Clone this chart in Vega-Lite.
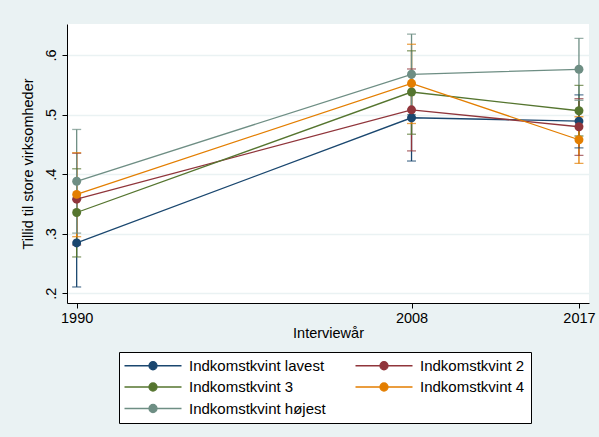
{
  "$schema": "https://vega.github.io/schema/vega-lite/v6.json",
  "width": 522,
  "height": 279,
  "autosize": {"type": "none"},
  "padding": {"left": 67, "top": 24, "right": 10, "bottom": 134},
  "background": "#eaf2f3",
  "config": {
    "view": {"fill": "white", "stroke": null},
    "font": "Liberation Sans"
  },
  "data": {
    "values": [
      {"group": "Indkomstkvint lavest", "year": 1990, "mean": 0.2845, "lo": 0.2106, "hi": 0.358},
      {"group": "Indkomstkvint lavest", "year": 2008, "mean": 0.4946, "lo": 0.422, "hi": 0.567},
      {"group": "Indkomstkvint lavest", "year": 2017, "mean": 0.489, "lo": 0.444, "hi": 0.533},
      {"group": "Indkomstkvint 2", "year": 1990, "mean": 0.358, "lo": 0.281, "hi": 0.435},
      {"group": "Indkomstkvint 2", "year": 2008, "mean": 0.508, "lo": 0.439, "hi": 0.5765},
      {"group": "Indkomstkvint 2", "year": 2017, "mean": 0.4795, "lo": 0.4314, "hi": 0.5266},
      {"group": "Indkomstkvint 3", "year": 1990, "mean": 0.3356, "lo": 0.261, "hi": 0.409},
      {"group": "Indkomstkvint 3", "year": 2008, "mean": 0.5378, "lo": 0.467, "hi": 0.607},
      {"group": "Indkomstkvint 3", "year": 2017, "mean": 0.5064, "lo": 0.464, "hi": 0.549},
      {"group": "Indkomstkvint 4", "year": 1990, "mean": 0.366, "lo": 0.295, "hi": 0.436},
      {"group": "Indkomstkvint 4", "year": 2008, "mean": 0.5524, "lo": 0.485, "hi": 0.618},
      {"group": "Indkomstkvint 4", "year": 2017, "mean": 0.4577, "lo": 0.418, "hi": 0.4963},
      {"group": "Indkomstkvint højest", "year": 1990, "mean": 0.388, "lo": 0.301, "hi": 0.475},
      {"group": "Indkomstkvint højest", "year": 2008, "mean": 0.5676, "lo": 0.5, "hi": 0.635},
      {"group": "Indkomstkvint højest", "year": 2017, "mean": 0.576, "lo": 0.524, "hi": 0.628}
    ]
  },
  "encoding": {
    "x": {
      "field": "year", "type": "quantitative",
      "scale": {"domain": [1989.48, 2017.54], "nice": false, "zero": false},
      "axis": {
        "values": [1990, 2008, 2017], "format": "d", "title": "Interviewår",
        "grid": false, "domainColor": "black", "tickColor": "black", "tickSize": 5,
        "labelFontSize": 14.5, "labelColor": "black", "labelPadding": 3,
        "titleFontSize": 14.5, "titleFontWeight": "normal", "titleColor": "black", "titlePadding": 2
      }
    },
    "y": {
      "field": "mean", "type": "quantitative",
      "scale": {"domain": [0.1837, 0.652], "nice": false, "zero": false},
      "axis": {
        "values": [0.2, 0.3, 0.4, 0.5, 0.6],
        "labelExpr": "'.' + format(datum.value * 10, 'd')",
        "title": "Tillid til store virksomheder",
        "grid": true, "gridColor": "#eaf2f3", "gridWidth": 1.5,
        "domainColor": "black", "tickColor": "black", "tickSize": 5,
        "labelAngle": -90, "labelAlign": "center", "labelBaseline": "bottom",
        "labelFontSize": 14.5, "labelColor": "black", "labelPadding": 4,
        "titleFontSize": 14.5, "titleFontWeight": "normal", "titleColor": "black", "titlePadding": 8
      }
    },
    "color": {
      "field": "group", "type": "nominal",
      "scale": {
        "domain": ["Indkomstkvint lavest", "Indkomstkvint 2", "Indkomstkvint 3", "Indkomstkvint 4", "Indkomstkvint højest"],
        "range": ["#1a476f", "#90353b", "#55752f", "#e37e00", "#6e8e84"]
      },
      "legend": {
        "title": null,
        "orient": "none",
        "legendX": 52,
        "legendY": 328,
        "columns": 2,
        "direction": "horizontal",
        "strokeColor": "black",
        "fillColor": "white",
        "padding": 6,
        "columnPadding": 26,
        "rowPadding": 5.5,
        "labelFontSize": 15,
        "labelColor": "black",
        "labelOffset": 49,
        "symbolType": "M-1.6,0H9.8M4.9,0A0.8,0.8,0,1,1,3.3,0A0.8,0.8,0,1,1,4.9,0Z",
        "symbolSize": 100,
        "symbolStrokeWidth": 1.3,
        "encode": {
          "symbols": {"update": {"fill": {"scale": "color", "field": "value"}, "stroke": {"scale": "color", "field": "value"}, "fillOpacity": {"value": 1}}}
        }
      }
    }
  },
  "layer": [
    {
      "mark": {"type": "rule", "strokeWidth": 1.3},
      "encoding": {"y": {"field": "lo", "type": "quantitative"}, "y2": {"field": "hi"}}
    },
    {
      "mark": {"type": "tick", "orient": "horizontal", "size": 9, "thickness": 1.3},
      "encoding": {"y": {"field": "lo", "type": "quantitative"}}
    },
    {
      "mark": {"type": "tick", "orient": "horizontal", "size": 9, "thickness": 1.3},
      "encoding": {"y": {"field": "hi", "type": "quantitative"}}
    },
    {
      "mark": {"type": "line", "strokeWidth": 1.3},
      "encoding": {}
    },
    {
      "mark": {"type": "point", "filled": true, "size": 80, "opacity": 1},
      "encoding": {}
    }
  ]
}
